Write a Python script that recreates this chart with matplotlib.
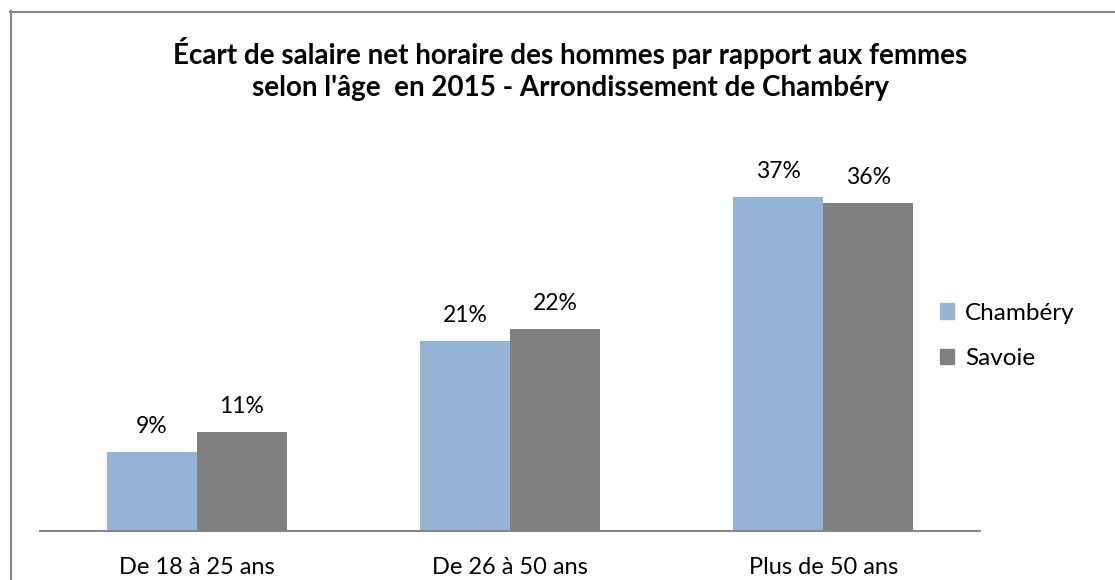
import matplotlib.pyplot as plt
from matplotlib.lines import Line2D
from matplotlib.patches import Patch
import numpy as np

categories = ["De 18 à 25 ans", "De 26 à 50 ans", "Plus de 50 ans"]
series_names = ["Chambéry", "Savoie"]
chambery = [0.088, 0.211, 0.371]
savoie = [0.110, 0.224, 0.364]
labels_chambery = ["9%", "21%", "37%"]
labels_savoie = ["11%", "22%", "36%"]

colors = ["#95B3D7", "#808080"]
font = ["Lato", "DejaVu Sans"]

W, H = 1115, 580
fig = plt.figure(figsize=(W / 100, H / 100), dpi=100)
plt.rcParams["font.family"] = font

# plot area in pixel coordinates
left, right, bottom, top = 40, 980, 531, 171
ax = fig.add_axes([left / W, 1 - bottom / H, (right - left) / W, (bottom - top) / H])

x = np.arange(len(categories))
width = 0.287
bars1 = ax.bar(x - width / 2, chambery, width, color=colors[0], label=series_names[0])
bars2 = ax.bar(x + width / 2, savoie, width, color=colors[1], label=series_names[1])

for bars, labels in [(bars1, labels_chambery), (bars2, labels_savoie)]:
    for b, lab in zip(bars, labels):
        ax.annotate(lab, (b.get_x() + b.get_width() / 2, b.get_height()),
                    xytext=(0, 18.5), textcoords="offset points",
                    ha="center", va="center", fontsize=16.5, color="#000000")

ax.set_xlim(-0.5, 2.5)
ax.set_ylim(0, 0.40)
ax.set_yticks([])
ax.set_xticks(x)
ax.set_xticklabels(categories, fontsize=17)
ax.tick_params(axis="x", length=0, pad=19)
for s in ["top", "right", "left"]:
    ax.spines[s].set_visible(False)
ax.spines["bottom"].set_color("#868686")
ax.spines["bottom"].set_linewidth(1.5)

# outer frame (only left and top edges visible in the crop)
fig.add_artist(Line2D([10.5 / W, 10.5 / W], [0, 1 - 11 / H], transform=fig.transFigure,
                      color="#868686", lw=1.5))
fig.add_artist(Line2D([10 / W, 1], [1 - 11.5 / H, 1 - 11.5 / H], transform=fig.transFigure,
                      color="#868686", lw=1.5))

fig.text(570 / W, 1 - 53 / H, "Écart de salaire net horaire des hommes par rapport aux femmes",
         ha="center", va="center", fontsize=20, fontweight="bold")
fig.text(570 / W, 1 - 88 / H, "selon l'âge  en 2015 - Arrondissement de Chambéry",
         ha="center", va="center", fontsize=20, fontweight="bold")

handles = [Patch(color=colors[0]), Patch(color=colors[1])]
fig.legend(handles, series_names, loc="upper left", bbox_to_anchor=(930 / W, 1 - 293 / H),
           frameon=False, fontsize=17.5, handlelength=0.6, handleheight=0.6,
           handletextpad=0.45, labelspacing=1.0, borderaxespad=0)

fig.savefig("out.png", dpi=100)
